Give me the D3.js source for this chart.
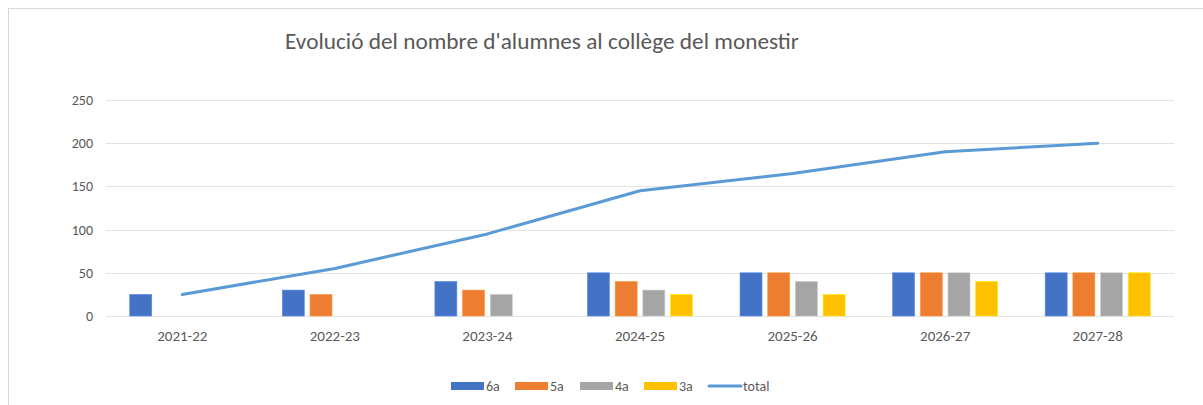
<!DOCTYPE html>
<html>
<head>
<meta charset="utf-8">
<script src="https://cdn.jsdelivr.net/npm/d3@7"></script>
<style>
	body { margin: 0; background: #fff; }
	text { font-family: Carlito, Lato, "Liberation Sans", sans-serif; fill: #595959; }
</style>
</head>
<body>
<svg id="chart" width="1203" height="405"></svg>
<script>
// chart data
var cursos = ["2021-22", "2022-23", "2023-24", "2024-25", "2025-26", "2026-27", "2027-28"];
var sisena = [25, 30, 40, 50, 50, 50, 50];
var cinquena = [0, 25, 30, 40, 50, 50, 50];
var quarta = [0, 0, 25, 30, 40, 50, 50];
var tercera = [0, 0, 0, 25, 25, 40, 50];
var total = [25, 55, 95, 145, 165, 190, 200];
var yTicks = [0, 50, 100, 150, 200, 250];

var series = [
	{ name: "6a", values: sisena, color: "#4472C4" },
	{ name: "5a", values: cinquena, color: "#ED7D31" },
	{ name: "4a", values: quarta, color: "#A5A5A5" },
	{ name: "3a", values: tercera, color: "#FFC000" }
];
var lineColor = "#5B9BD5";

var svg = d3.select("#chart");

// outer chart border (cropped on the right/bottom like the screenshot)
svg.append("rect")
	.attr("x", 8.5).attr("y", 8.5)
	.attr("width", 1300).attr("height", 500)
	.attr("fill", "none").attr("stroke", "#d9d9d9");

var plot = { left: 106, right: 1174, top: 100, bottom: 316 };

var x = d3.scaleBand().domain(cursos).range([plot.left, plot.right]);
var y = d3.scaleLinear().domain([0, 250]).range([plot.bottom, plot.top]);
var xs = d3.scaleBand().domain(series.map(function(s){ return s.name; }))
	.range([0, x.bandwidth()]).paddingInner(0.206).paddingOuter(0.857);

// title
svg.append("text")
	.attr("x", 542).attr("y", 49)
	.attr("text-anchor", "middle")
	.style("font-size", "23.3px")
	.text("Evolució del nombre d'alumnes al collège del monestir");

// gridlines
svg.append("g").selectAll("line").data(yTicks).enter().append("line")
	.attr("x1", plot.left).attr("x2", plot.right)
	.attr("y1", function(d){ return Math.round(y(d)) + 0.5; })
	.attr("y2", function(d){ return Math.round(y(d)) + 0.5; })
	.attr("stroke", "#e3e3e3");

// y axis labels
var yAxis = svg.append("g")
	.attr("transform", "translate(" + (plot.left - 13) + ",0)")
	.call(d3.axisLeft(y).tickValues(yTicks).tickSize(0).tickPadding(0));
yAxis.select(".domain").remove();
yAxis.selectAll("text").style("font-size", "14px").style("fill", "#595959")
	.style("font-family", null);

// x axis labels
var xAxis = svg.append("g")
	.attr("transform", "translate(0," + plot.bottom + ")")
	.call(d3.axisBottom(x).tickSize(0).tickPadding(14));
xAxis.select(".domain").remove();
xAxis.selectAll("text").style("font-size", "15px").style("fill", "#595959")
	.style("font-family", null);

// bars
series.forEach(function(s){
	svg.append("g").selectAll("rect").data(s.values).enter().append("rect")
		.attr("x", function(d, i){ return x(cursos[i]) + xs(s.name); })
		.attr("width", xs.bandwidth())
		.attr("y", function(d){ return y(d); })
		.attr("height", function(d){ return y(0) - y(d); })
		.attr("fill", s.color)
		.attr("stroke", d3.color(s.color).brighter(0.6))
		.attr("stroke-width", 0.6)
		.style("display", function(d){ return d > 0 ? null : "none"; });
});

// total line
var line = d3.line()
	.x(function(d, i){ return x(cursos[i]) + x.bandwidth() / 2; })
	.y(function(d){ return y(d); });
svg.append("path").datum(total)
	.attr("d", line)
	.attr("fill", "none")
	.attr("stroke", lineColor)
	.attr("stroke-width", 3)
	.attr("stroke-linejoin", "round")
	.attr("stroke-linecap", "round");

// legend
var legendItems = series.map(function(s){ return { name: s.name, color: s.color, type: "bar" }; })
	.concat([{ name: "total", color: lineColor, type: "line" }]);
var legendX = [451, 515, 580, 644, 708];
var lg = svg.append("g");
legendItems.forEach(function(it, i){
	var g = lg.append("g").attr("transform", "translate(" + legendX[i] + ",386)");
	if (it.type === "bar") {
		g.append("rect").attr("x", 0).attr("y", -4).attr("width", 33).attr("height", 8)
			.attr("fill", it.color);
	} else {
		g.append("line").attr("x1", 1).attr("x2", 33).attr("y1", 0).attr("y2", 0)
			.attr("stroke", it.color).attr("stroke-width", 3).attr("stroke-linecap", "round");
	}
	g.append("text").attr("x", 35).attr("y", 5)
		.style("font-size", "14px")
		.text(it.name);
});
</script>
</body>
</html>
